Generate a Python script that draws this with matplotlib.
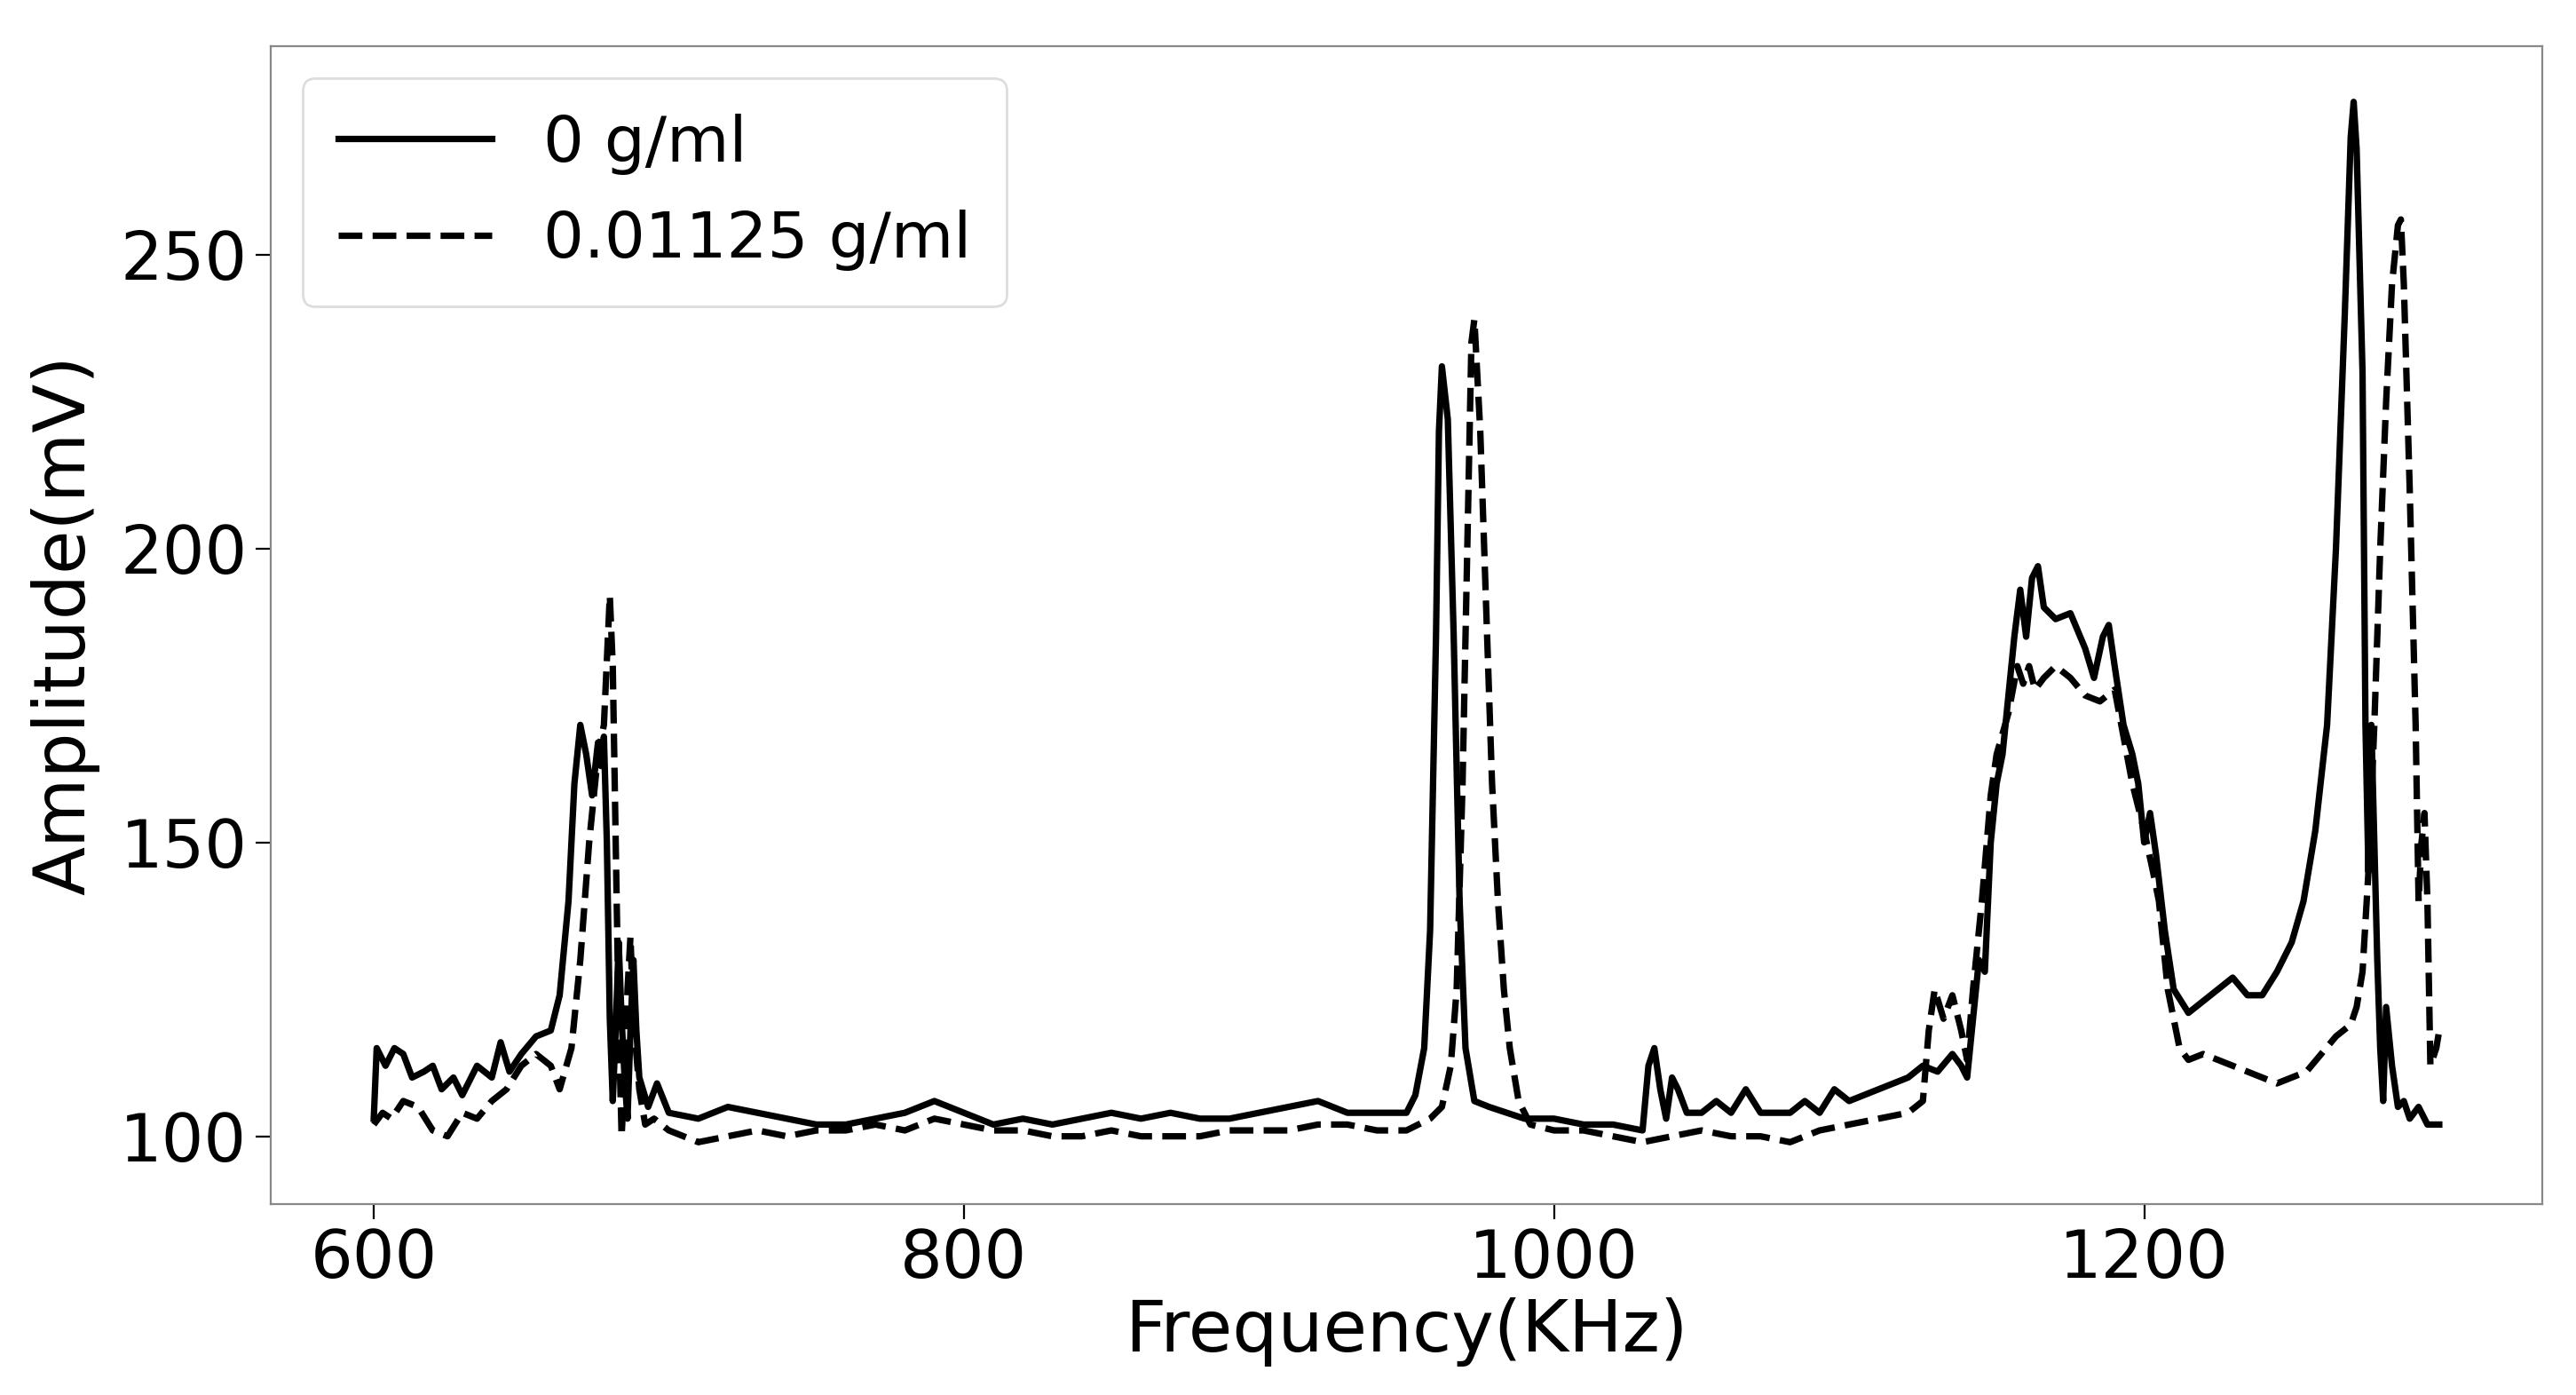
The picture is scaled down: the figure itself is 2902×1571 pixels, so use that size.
import matplotlib
matplotlib.use("Agg")
import matplotlib.pyplot as plt

f0 = [600,601,604,607,610,613,617,620,623,627,630,635,640,643,646,650,655,660,663,666,668,670,672,674,676,677,678,679,680,681,682,683,684,685,686,687,688,689,690,693,696,700,710,720,730,740,750,760,770,780,790,800,810,820,830,840,850,860,870,880,890,900,910,920,930,940,950,953,956,958,960,961,962,964,966,968,970,973,978,990,1000,1010,1020,1030,1032,1034,1036,1038,1040,1042,1045,1050,1055,1060,1065,1070,1080,1085,1090,1095,1100,1110,1120,1125,1130,1135,1138,1140,1142,1144,1146,1148,1150,1152,1154,1156,1158,1160,1162,1164,1166,1170,1175,1180,1183,1186,1188,1190,1193,1196,1198,1200,1202,1204,1207,1210,1215,1220,1225,1230,1235,1240,1245,1250,1254,1258,1262,1265,1268,1270,1271,1272,1274,1275,1276,1277,1278,1279,1280,1281,1282,1284,1286,1288,1290,1293,1296,1300]
a0 = [103,115,112,115,114,110,111,112,108,110,107,112,110,116,111,114,117,118,124,140,160,170,165,158,167,163,168,150,120,106,118,133,120,110,103,118,130,118,110,105,109,104,103,105,104,103,102,102,103,104,106,104,102,103,102,103,104,103,104,103,103,104,105,106,104,104,104,107,115,135,185,220,231,222,185,140,115,106,105,103,103,102,102,101,112,115,108,103,110,108,104,104,106,104,108,104,104,106,104,108,106,108,110,112,111,114,112,110,120,130,128,150,160,165,175,185,193,185,195,197,190,188,189,183,178,185,187,180,170,165,160,150,155,148,135,125,121,123,125,127,124,124,128,133,140,152,170,200,240,270,276,268,230,170,145,170,150,130,115,106,122,112,105,106,103,105,102,102]

f1 = [600,603,606,610,615,620,625,630,635,640,645,650,655,660,663,667,670,673,676,678,680,681,682,683,684,685,686,687,688,690,692,695,700,710,720,730,740,750,760,770,780,790,800,810,820,830,840,850,860,870,880,890,900,910,920,930,940,950,958,962,965,967,969,971,972,973,975,977,979,981,983,985,988,992,1000,1010,1020,1030,1040,1050,1060,1070,1080,1090,1100,1110,1120,1125,1127,1129,1132,1135,1138,1140,1142,1145,1148,1150,1154,1157,1159,1161,1163,1166,1170,1175,1180,1185,1190,1193,1196,1200,1203,1205,1208,1212,1215,1220,1225,1230,1240,1245,1250,1255,1260,1265,1270,1272,1274,1276,1278,1280,1282,1284,1286,1287,1288,1290,1292,1293,1294,1295,1296,1297,1299,1300]
a1 = [102,104,103,106,105,101,100,104,103,106,108,112,114,112,108,115,130,150,165,170,192,180,150,120,100,110,125,134,120,108,102,103,101,99,100,101,100,101,101,102,101,103,102,101,101,100,100,101,100,100,100,101,101,101,102,102,101,101,103,105,112,125,160,210,235,239,220,190,160,140,125,115,106,102,101,101,100,99,100,101,100,100,99,101,102,103,104,106,118,125,120,124,118,113,125,140,158,165,172,180,177,180,176,178,180,178,175,174,176,168,160,152,145,140,125,115,113,114,113,112,110,109,110,111,114,117,119,122,128,145,170,200,225,245,255,256,245,210,170,140,150,155,140,112,115,118]

labels = ["0 g/ml", "0.01125 g/ml"]

fig = plt.figure(figsize=(14.51, 7.855), dpi=200)
ax = fig.add_axes([0.105, 0.137, 0.882, 0.830])
ax.plot(f0, a0, color="black", lw=2.6, ls="-", label=labels[0])
ax.plot(f1, a1, color="black", lw=2.6, ls="--", label=labels[1])
ax.set_xlim(565, 1335)
ax.set_ylim(88.5, 285.5)
ax.set_xticks([600, 800, 1000, 1200])
ax.set_yticks([100, 150, 200, 250])
ax.tick_params(labelsize=27, length=6)
ax.set_xlabel("Frequency(KHz)", fontsize=29, labelpad=2)
ax.set_ylabel("Amplitude(mV)", fontsize=29, labelpad=8)
for s in ax.spines.values():
    s.set_color("#888888")
ax.legend(loc="upper left", fontsize=26, handlelength=2.4, borderpad=0.55, labelspacing=0.55, framealpha=1, edgecolor="#dddddd")
fig.savefig("out.png", dpi=200)
